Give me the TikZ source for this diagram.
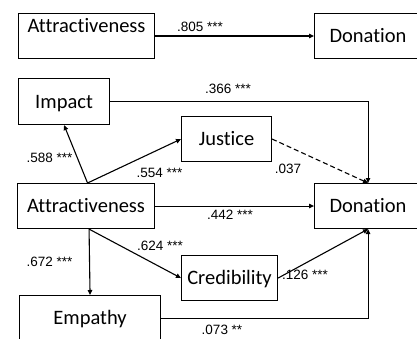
\documentclass[tikz,border=0pt]{standalone}
\usepackage{fontspec}
\setmainfont{Carlito}[Ligatures={NoCommon,NoContextual}]
\newfontfamily\lblfont{Liberation Sans}
\usetikzlibrary{arrows.meta,calc}
\begin{document}
\begin{tikzpicture}[x=1pt,y=-1pt,
  box/.style={draw, line width=1.1pt, inner sep=0pt, anchor=north west,
    font=\fontsize{20.5}{24}\selectfont, text height=13pt, text depth=0pt},
  arr/.style={line width=1.1pt, -{Triangle[length=5pt,width=4.5pt]}},
  lbl/.style={font=\lblfont\fontsize{13.5}{16}\selectfont, inner sep=0pt}]
\useasboundingbox (0,0) rectangle (417,339);
\clip (0,0) rectangle (417,339);
% top model
\node[box, minimum width=136pt, minimum height=0pt, text height=19pt, text depth=26pt] (a0) at (18,13) {Attractiveness};
\node[box, minimum width=107pt, minimum height=45pt] (d0) at (314,13) {Donation};
% main model
\node[box, minimum width=91pt, minimum height=46pt] (imp) at (18,78) {Impact};
\node[box, minimum width=90pt, minimum height=45pt] (jus) at (181,116) {Justice};
\node[box, minimum width=137pt, minimum height=45pt] (att) at (17,183) {Attractiveness};
\node[box, minimum width=107pt, minimum height=45pt] (don) at (314,183) {Donation};
\node[box, minimum width=96pt, minimum height=45pt] (cred) at (181,255) {Credibility};
\node[box, minimum width=141pt, minimum height=45pt] (emp) at (19,295) {Empathy};
\coordinate (attT) at ([xshift=1.5pt]att.north);
\coordinate (attB) at ([xshift=3pt]att.south);
% connectors
\draw[arr] (a0) -- (d0);
\draw[arr] (imp.east) -| (don.north);
\draw[arr] (attT) -- (imp.south);
\draw[arr] (attT) -- (jus.west);
\draw[arr, dash pattern=on 5pt off 3pt] (jus.east) -- (don.north);
\draw[arr] (att) -- (don);
\draw[arr] (attB) -- (emp.north);
\draw[arr] (attB) -- (cred.west);
\draw[arr] (cred.east) -- (don.south);
\draw[arr] (emp.east) -| (don.south);
% labels
\node[lbl] (l1) at (200,27) {.805 ***};
\node[lbl] (l2) at (228,89) {.366 ***};
\node[lbl] (l3) at (49.5,158) {.588 ***};
\node[lbl] (l4) at (159.5,173) {.554 ***};
\node[lbl] (l5) at (288,169) {.037};
\node[lbl] (l6) at (230,215) {.442 ***};
\node[lbl] (l7) at (160,246) {.624 ***};
\node[lbl] (l8) at (49.5,262) {.672 ***};
\node[lbl] (l9) at (305,275) {.126 ***};
\node[lbl] (l10) at (222,330) {.073 **};
\end{tikzpicture}
\end{document}
